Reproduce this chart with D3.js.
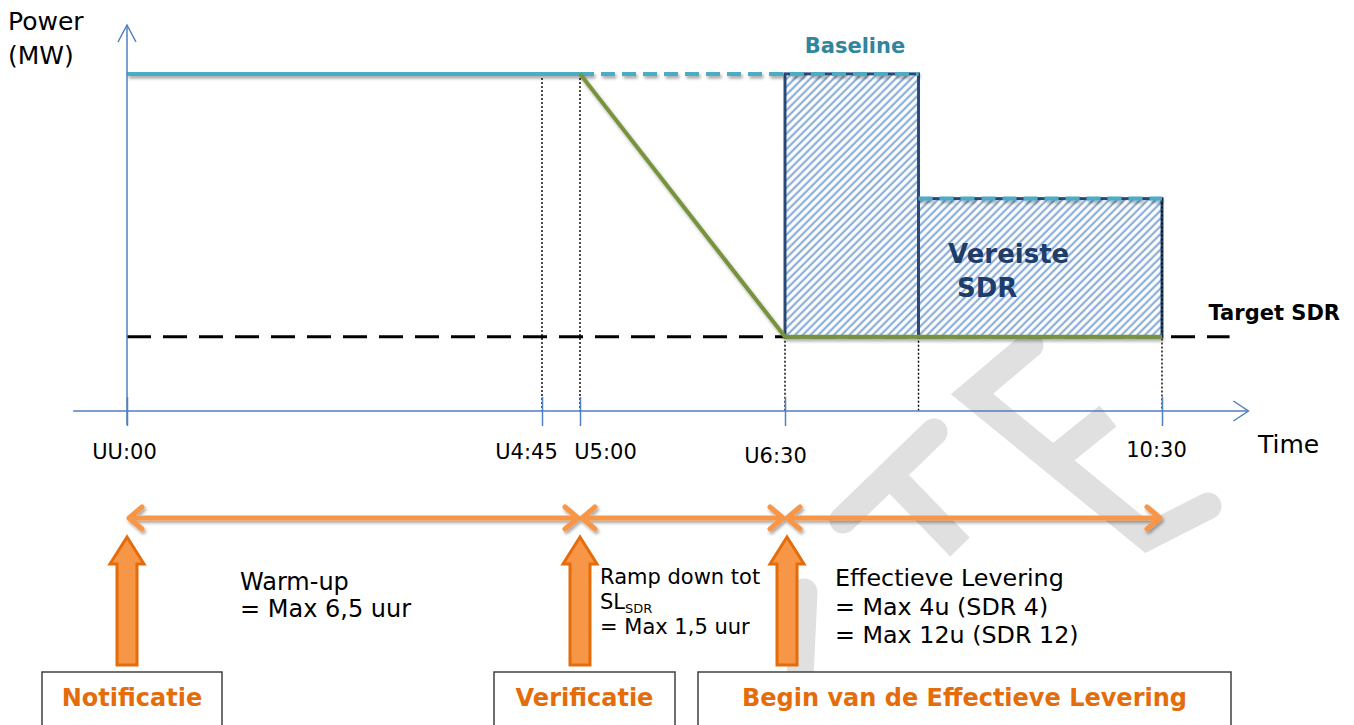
<!DOCTYPE html>
<html><head><meta charset="utf-8">
<script src="https://cdn.jsdelivr.net/npm/d3@7"></script>
<style>body{margin:0;background:#fff}svg{display:block}</style>
</head><body><svg id="c" width="1354" height="725"></svg>
<script>
// ---------- data ----------
const tickTimes  = [0, 285, 300, 390, 630];            // minutes after notification
const tickLabels = ["UU:00", "U4:45", "U5:00", "U6:30", "10:30"];
const baselineStart = [0, 300, 475];
const baselineEnd   = [300, 475, 630];
const baselineLevel = [100, 100, 63];
const baselineKind  = ["measured", "forecast", "forecast"];
const targetLevel = 22;
const targetSpan  = [0, 673];
const actualTimes = [300, 390, 630];
const actualPower = [100, 22, 22];
const blockStart = [390, 475];
const blockEnd   = [475, 630];
const blockTop   = [100, 63];
const guideTimes = [285, 300, 390, 475, 630];
const guideFrom  = [100, 100, 22, 22, 63];
const phaseStart = [0, 300, 390];
const phaseEnd   = [300, 390, 630];
const phaseText  = [["Warm-up", "= Max 6,5 uur"],
                    ["Ramp down tot", "SL_SDR", "= Max 1,5 uur"],
                    ["Effectieve Levering", "= Max 4u (SDR 4)", "= Max 12u (SDR 12)"]];
const eventTimes  = [0, 300, 390];
const eventLabels = ["Notificatie", "Verificatie", "Begin van de Effectieve Levering"];

// ---------- layout ----------
const svg = d3.select("#c");
const x = d3.scaleLinear().domain(tickTimes).range([127, 542, 580, 785, 1162]);
const y = d3.scaleLinear().domain([0, 114.5]).range([411, 25]);
const AX = "#4f81bd", TEAL = "#4bacc6", GREEN = "#77933c", NAVY = "#2b4a78",
      OR = "#f79646", ORD = "#e46c0a", FONT = "DejaVu Sans, Verdana, sans-serif";

const defs = svg.append("defs");
const pat = defs.append("pattern").attr("id", "hatch").attr("patternUnits", "userSpaceOnUse")
  .attr("width", 5.5).attr("height", 5.5).attr("patternTransform", "rotate(45)");
pat.append("rect").attr("width", 5.5).attr("height", 5.5).attr("fill", "#fff");
pat.append("line").attr("x1", 1.5).attr("x2", 1.5).attr("y1", 0).attr("y2", 5.5)
  .attr("stroke", "#7fa6d8").attr("stroke-width", 2);
const f = defs.append("filter").attr("id", "sh").attr("filterUnits", "userSpaceOnUse")
  .attr("x", 0).attr("y", 0).attr("width", 1354).attr("height", 725);
f.append("feDropShadow").attr("dx", 1.5).attr("dy", 2.5).attr("stdDeviation", 1.8)
  .attr("flood-color", "#000").attr("flood-opacity", 0.35);

// ---------- watermark ----------
const wm = svg.append("g").attr("fill", "none").attr("stroke", "#e0e0e0").attr("stroke-width", 27);
wm.append("path").attr("d", "M1030,345 L972,394 L1147,537 L1208,506")
  .attr("stroke-linejoin", "miter").attr("stroke-linecap", "round");
wm.append("path").attr("d", "M1056,458 L1108,416").attr("stroke-linecap", "butt");
wm.append("path").attr("d", "M934,432 L843,520").attr("stroke-linecap", "round");
wm.append("path").attr("d", "M893,478 L960,547").attr("stroke-linecap", "butt");
wm.append("path").attr("d", "M804,592 L798,720").attr("stroke-linecap", "round");

// ---------- required SDR blocks ----------
blockStart.forEach((s, i) => {
  svg.append("rect").attr("x", x(s)).attr("y", y(blockTop[i]))
    .attr("width", x(blockEnd[i]) - x(s)).attr("height", y(targetLevel) - y(blockTop[i]))
    .attr("fill", "url(#hatch)").attr("stroke", NAVY).attr("stroke-width", 3);
});

// ---------- dotted guides ----------
guideTimes.forEach((t, i) => {
  svg.append("line").attr("x1", x(t)).attr("x2", x(t)).attr("y1", y(guideFrom[i])).attr("y2", y(0))
    .attr("stroke", "#000").attr("stroke-width", 1.4).attr("stroke-dasharray", "2,2");
});

// ---------- target line ----------
svg.append("line").attr("x1", x(targetSpan[0])).attr("x2", x(targetSpan[1]))
  .attr("y1", y(targetLevel)).attr("y2", y(targetLevel))
  .attr("stroke", "#000").attr("stroke-width", 3).attr("stroke-dasharray", "24,12");

// ---------- baseline ----------
baselineStart.forEach((s, i) => {
  const l = svg.append("line").attr("x1", x(s)).attr("x2", x(baselineEnd[i]))
    .attr("y1", y(baselineLevel[i])).attr("y2", y(baselineLevel[i]))
    .attr("stroke", TEAL).attr("stroke-width", 4).attr("filter", "url(#sh)");
  if (baselineKind[i] === "forecast") l.attr("stroke-dasharray", "14,7");
});

// ---------- actual power ----------
svg.append("path")
  .datum(actualTimes.map((t, i) => [t, actualPower[i]]))
  .attr("d", d3.line().x(d => x(d[0])).y(d => y(d[1])))
  .attr("fill", "none").attr("stroke", GREEN).attr("stroke-width", 4).attr("filter", "url(#sh)");

// ---------- axes ----------
svg.append("line").attr("x1", x(-37)).attr("x2", x(685)).attr("y1", y(0)).attr("y2", y(0))
  .attr("stroke", AX).attr("stroke-width", 1.5);
svg.append("path").attr("d", `M${x(685) - 15},${y(0) - 10} L${x(685)},${y(0)} L${x(685) - 15},${y(0) + 10}`)
  .attr("fill", "none").attr("stroke", AX).attr("stroke-width", 1.5);
svg.append("line").attr("x1", x(0)).attr("x2", x(0)).attr("y1", y(0) + 14).attr("y2", y(114.5))
  .attr("stroke", AX).attr("stroke-width", 1.5);
svg.append("path").attr("d", `M${x(0) - 9},${y(114.5) + 17} L${x(0)},${y(114.5)} L${x(0) + 9},${y(114.5) + 17}`)
  .attr("fill", "none").attr("stroke", AX).attr("stroke-width", 1.5);

const labelShift = [-3, -16, 25, -10, -6];
const labelDy = [0, 0, 0, 4, -2];
const ax = svg.append("g").attr("transform", `translate(0,${y(0)})`)
  .call(d3.axisBottom(x).tickValues(tickTimes).tickSize(15).tickFormat((d, i) => tickLabels[i]));
ax.select(".domain").remove();
ax.selectAll(".tick line").attr("y1", -14).attr("stroke", AX).attr("stroke-width", 1.5);
ax.selectAll(".tick text").attr("font-family", FONT).attr("font-size", 21).attr("fill", "#000")
  .attr("y", 48).attr("dy", (d, i) => labelDy[i]).attr("x", (d, i) => labelShift[i]);

// ---------- axis titles & labels ----------
const T = (tx, ty, s, size, opts = {}) => svg.append("text").attr("x", tx).attr("y", ty).text(s)
  .attr("font-family", FONT).attr("font-size", size).attr("fill", opts.fill || "#000")
  .attr("font-weight", opts.bold ? "bold" : "normal").attr("text-anchor", opts.anchor || "start");
T(8, 30, "Power", 25);
T(8, 64, "(MW)", 25);
T(1258, 453, "Time", 25);
T(855, 53, "Baseline", 21, {bold: true, fill: "#31859c", anchor: "middle"});
T(1340, 320, "Target SDR", 21, {bold: true, anchor: "end"});
T(948, 263, "Vereiste", 26, {bold: true, fill: "#1f3d6b"});
T(957, 297, "SDR", 26, {bold: true, fill: "#1f3d6b"});

// ---------- phase double arrows ----------
const ay = 518;
phaseStart.forEach((s, i) => {
  const x0 = x(s) + 2, x1 = x(phaseEnd[i]) - 2;
  svg.append("path")
    .attr("d", `M${x0},${ay} L${x1},${ay} M${x0 + 13},${ay - 11} L${x0},${ay} L${x0 + 13},${ay + 11} M${x1 - 13},${ay - 11} L${x1},${ay} L${x1 - 13},${ay + 11}`)
    .attr("fill", "none").attr("stroke", OR).attr("stroke-width", 5).attr("stroke-linecap", "round")
    .attr("stroke-linejoin", "round").attr("filter", "url(#sh)");
});

// ---------- phase texts ----------
const phasePos = [[240, 590, 27, 24], [600, 584, 25, 21], [835, 586, 28.5, 23.8]];
phaseText.forEach((lines, i) => {
  const [px, py, lh, fs] = phasePos[i];
  lines.forEach((s, j) => {
    if (s.includes("_")) {
      const [a, b] = s.split("_");
      const t = T(px, py + j * lh, "", fs);
      t.append("tspan").text(a);
      t.append("tspan").text(b).attr("font-size", fs * 0.62).attr("dy", 4);
    } else T(px, py + j * lh, s, fs);
  });
});

// ---------- event boxes & block arrows ----------
const boxX = [[42, 222], [494, 675], [698, 1231]];
eventTimes.forEach((t, i) => {
  const [b0, b1] = boxX[i];
  svg.append("rect").attr("x", b0).attr("y", 672).attr("width", b1 - b0).attr("height", 70)
    .attr("fill", "#fff").attr("stroke", "#404040").attr("stroke-width", 1.5);
  T((b0 + b1) / 2, 706, eventLabels[i], 24, {bold: true, fill: ORD, anchor: "middle"});
  const cx = x(t) + (i === 2 ? 2 : 0), top = 537, hh = 27, hw = 17, sw = 10, bot = 665;
  svg.append("path")
    .attr("d", `M${cx},${top} L${cx + hw},${top + hh} L${cx + sw},${top + hh} L${cx + sw},${bot} L${cx - sw},${bot} L${cx - sw},${top + hh} L${cx - hw},${top + hh} Z`)
    .attr("fill", OR).attr("stroke", ORD).attr("stroke-width", 3).attr("stroke-linejoin", "miter");
});
</script></body></html>
